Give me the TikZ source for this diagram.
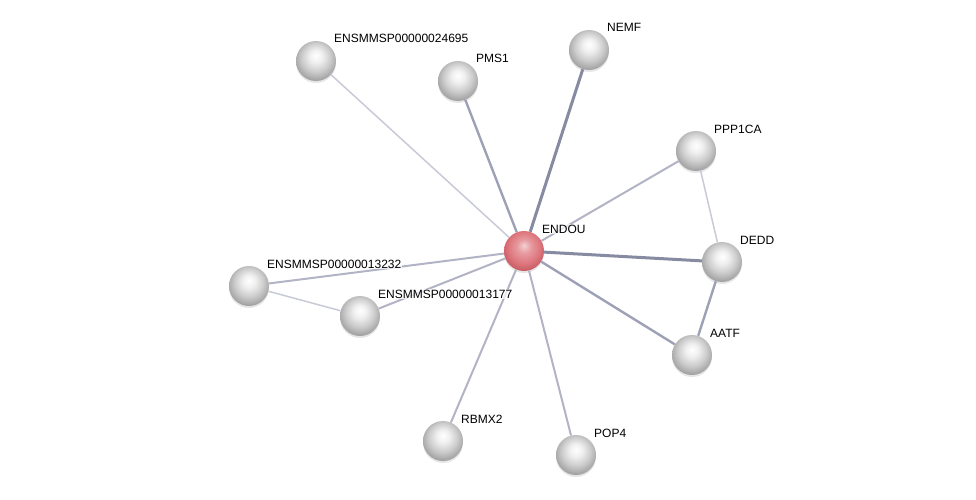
\documentclass[tikz,border=0pt]{standalone}
\usepackage{fontspec}
\setmainfont{Liberation Sans}
\usepackage{tikz}
\usetikzlibrary{calc, shadows}

\definecolor{edgedark}{HTML}{868BA2}
\definecolor{edgemid}{HTML}{9EA1B6}
\definecolor{edgelight}{HTML}{B2B4C6}
\definecolor{edgepale}{HTML}{C8CAD6}
\definecolor{protred}{HTML}{D9636B}

\pgfdeclareradialshading{graysphere}{\pgfpoint{0bp}{7bp}}{color(0bp)=(white); color(8bp)=(white!94!black);
    color(18bp)=(white!80!black); color(27bp)=(white!64!black); color(33bp)=(white!52!black); color(50bp)=(white!52!black)}
\pgfdeclareradialshading{redsphere}{\pgfpoint{0bp}{7bp}}{color(0bp)=(white!70!protred); color(9bp)=(white!35!protred);
    color(20bp)=(white!12!protred); color(28bp)=(protred!92!black); color(33bp)=(protred!75!black); color(50bp)=(protred!75!black)}

\tikzset{
    prot/.style={circle, minimum size=40pt, inner sep=0pt, shading=graysphere,
                 drop shadow={opacity=0.2, shadow xshift=0pt, shadow yshift=-2pt}},
    query/.style={prot, shading=redsphere},
    lbl/.style={anchor=base west, inner sep=1pt, fill=white, fill opacity=0.7, text opacity=1,
                font=\fontsize{12}{14}\selectfont},
    strong/.style={draw=edgedark, line width=3pt},
    medium/.style={draw=edgemid, line width=2.4pt},
    weak/.style={draw=edgelight, line width=2pt},
    faint/.style={draw=edgepale, line width=1.5pt}
}

\begin{document}
\begin{tikzpicture}[x=1pt, y=-1pt]
            \useasboundingbox (0,0) rectangle (976,500);
            \node[query] (endou) at (524,251) {};
            \foreach \name/\x/\y in {p24695/316/61, pms1/458/81, nemf/589/50, ppp1ca/696/151, dedd/722/262,
                aatf/692/355, pop4/576/455, rbmx2/443/441, p13177/360/316, p13232/249/286} {
                \node[prot] (\name) at (\x,\y) {};
            }
            \draw[strong] (endou) -- (nemf);
            \draw[strong] (endou) -- (dedd);
            \draw[medium] (endou) -- (pms1);
            \draw[medium] (endou) -- (aatf);
            \draw[medium] (dedd) -- (aatf);
            \draw[weak] (endou) -- (ppp1ca);
            \draw[weak] (endou) -- (pop4);
            \draw[weak] (endou) -- (rbmx2);
            \draw[weak] (endou) -- (p13177);
            \draw[weak] (endou) -- (p13232);
            \draw[faint] (endou) -- (p24695);
            \draw[faint] (p13232) -- (p13177);
            \draw[faint] (ppp1ca) -- (dedd);
            \foreach \name/\txt in {endou/ENDOU, p24695/ENSMMSP00000024695, pms1/PMS1, nemf/NEMF, ppp1ca/PPP1CA,
                dedd/DEDD, aatf/AATF, pop4/POP4, rbmx2/RBMX2, p13177/ENSMMSP00000013177, p13232/ENSMMSP00000013232} {
                \node[lbl] (\name-l) at ($(\name)+(17,-18)$) {\txt};
            }
        \end{tikzpicture}
\end{document}
